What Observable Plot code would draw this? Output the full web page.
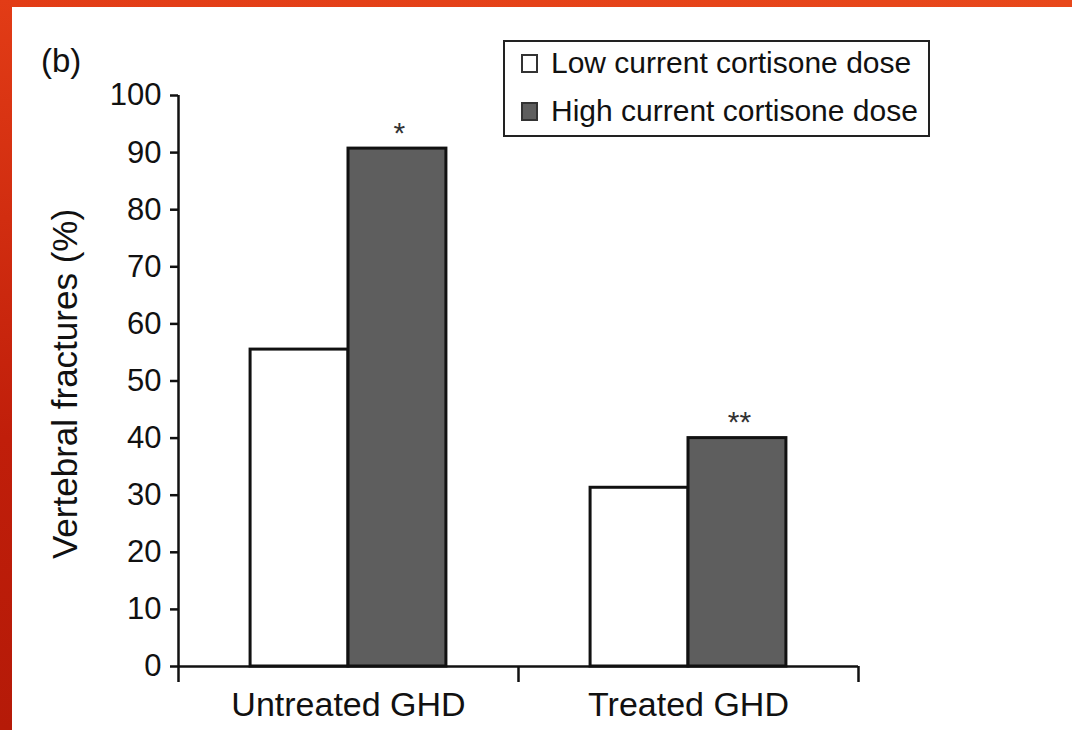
<!DOCTYPE html>
<html>
<head>
<meta charset="utf-8">
<script src="https://cdn.jsdelivr.net/npm/d3@7"></script>
<script src="https://cdn.jsdelivr.net/npm/@observablehq/plot@0.6"></script>
<style>
  html, body { margin: 0; padding: 0; background: #fff; }
  #wrap { position: relative; width: 1072px; height: 730px; overflow: hidden; background: #fff;
          font-family: "Liberation Sans", Arial, Helvetica, sans-serif; color: #111; }
  #topbar { position: absolute; left: 0; top: 0; width: 1072px; height: 7px; z-index: 5;
            background: linear-gradient(to right, #e23c16, #e8481b); }
  #leftbar { position: absolute; left: 0; top: 0; width: 12px; height: 730px; z-index: 6;
             background: linear-gradient(to bottom, #e23c16, #c01e0a 60%, #b51a08); }
  #panel { position: absolute; left: 41px; top: 42px; font-size: 33px; z-index: 3; }
  #legend { position: absolute; left: 503px; top: 40px; width: 423px; height: 93px;
            border: 2px solid #222; z-index: 3; background: #fff; }
  .item { position: absolute; left: 16px; display: flex; align-items: center; font-size: 30px; white-space: nowrap; }
  .sw { width: 13px; height: 15px; border: 2px solid #333; margin-right: 13px; box-sizing: content-box; }
  #chart { position: absolute; left: 0; top: 0; z-index: 1; }
</style>
</head>
<body>
<div id="wrap">
  <div id="topbar"></div>
  <div id="leftbar"></div>
  <div id="panel">(b)</div>
  <div id="legend"></div>
  <div id="chart"></div>
</div>
<script>
// ---- data ----
const groups = ["Untreated GHD", "Treated GHD"];
const seriesNames = ["Low current cortisone dose", "High current cortisone dose"];
const lowValues = [55.5, 31.3];
const highValues = [90.7, 40.0];
const significance = ["*", "**"];
const yTicks = [0, 10, 20, 30, 40, 50, 60, 70, 80, 90, 100];
const yLabel = "Vertebral fractures (%)";
const seriesColors = ["#ffffff", "#5e5e5e"];

// ---- layout ----
const W = 1072, H = 730;
const mL = 178, mR = 214, mT = 95, mB = 64;
const band = (W - mL - mR) / groups.length;
const outer = band * 0.212;
const half = band / 2;

const lowData = groups.map((g, i) => ({group: g, value: lowValues[i]}));
const highData = groups.map((g, i) => ({group: g, value: highValues[i], sig: significance[i]}));

const font = "Liberation Sans, Arial, Helvetica, sans-serif";

const plot = Plot.plot({
  width: W, height: H,
  marginLeft: mL, marginRight: mR, marginTop: mT, marginBottom: mB,
  style: {background: "transparent", fontFamily: font, color: "#111", overflow: "visible"},
  x: {domain: groups, padding: 0, axis: null},
  y: {domain: [0, 100], axis: null},
  marks: [
    Plot.axisY({ticks: yTicks, tickSize: 8, tickPadding: 9, fontSize: 31, label: null, strokeWidth: 2.5}),
    // y axis line with first boundary tick
    Plot.ruleX([groups[0]], {x: d => d, y1: -2.8, y2: 100, dx: -half, stroke: "#111", strokeWidth: 2.5}),
    // boundary ticks
    Plot.ruleX(groups.slice(1), {x: d => d, y1: -2.8, y2: 0, dx: -half, stroke: "#111", strokeWidth: 2.5}),
    Plot.ruleX([groups[groups.length - 1]], {x: d => d, y1: -2.8, y2: 0, dx: half, stroke: "#111", strokeWidth: 2.5}),
    Plot.ruleY([0], {stroke: "#111", strokeWidth: 2.5}),
    Plot.barY(lowData, {x: "group", y: "value", fill: seriesColors[0], stroke: "#111", strokeWidth: 3,
      insetLeft: outer, insetRight: half}),
    Plot.barY(highData, {x: "group", y: "value", fill: seriesColors[1], stroke: "#111", strokeWidth: 3,
      insetLeft: half, insetRight: outer}),
    Plot.text(highData, {x: "group", y: "value", text: "sig", dx: (half - outer) / 2 + 2,
      lineAnchor: "bottom", dy: -6, fontSize: 30, fill: "#333"}),
    Plot.axisX({tickSize: 0, tickPadding: 25, fontSize: 34, label: null}),
    Plot.text([yLabel], {frameAnchor: "left", rotate: -90, dx: -113, dy: 3, fontSize: 35, fill: "#111", lineAnchor: "middle", textAnchor: "middle"})
  ]
});
document.getElementById("chart").appendChild(plot);

// legend
const legend = document.getElementById("legend");
seriesNames.forEach((name, i) => {
  const item = document.createElement("div");
  item.className = "item";
  item.style.top = (i === 0 ? 4 : 52) + "px";
  const sw = document.createElement("div");
  sw.className = "sw";
  sw.style.background = seriesColors[i];
  item.appendChild(sw);
  const t = document.createElement("span");
  t.textContent = name;
  item.appendChild(t);
  legend.appendChild(item);
});
</script>
</body>
</html>
